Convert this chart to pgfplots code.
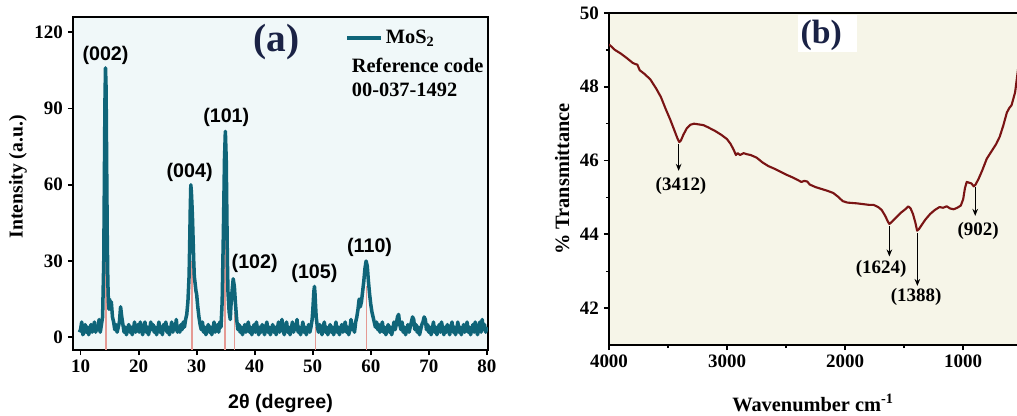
\documentclass[border=0pt]{standalone}
\usepackage{fontspec}
\setmainfont{Liberation Serif}
\setsansfont{Liberation Sans}
\usepackage{pgfplots}
\pgfplotsset{compat=1.18}
\usetikzlibrary{arrows.meta}
\definecolor{xrd}{HTML}{0F6579}
\definecolor{refpink}{HTML}{E59A94}
\definecolor{ftir}{HTML}{7A1414}
\definecolor{bga}{HTML}{F0F8F9}
\definecolor{bgb}{HTML}{F6F5E8}
\definecolor{navy}{HTML}{1A2245}

\pgfplotsset{
  panel/.style={
    scale only axis,
    tick align=outside, tick pos=left,
    axis line style={line width=2pt},
    major tick style={line width=1.3pt, black},
    minor tick style={line width=1pt, black},
    major tick length=0.13cm, minor tick length=0.08cm,
    ticklabel style={font=\rmfamily\bfseries\fontsize{13.5}{15}\selectfont},
    /pgf/number format/assume math mode=true,
  },
}

\begin{document}
\begin{tikzpicture}
\useasboundingbox (0,0) rectangle (25.425cm,10.4cm);
\clip (0,0) rectangle (25.425cm,10.4cm);

% (a) XRD
\begin{axis}[panel,
  at={(1.825cm,1.65cm)}, anchor=south west,
  width=10.375cm, height=8.325cm,
  xmin=8.7, xmax=80.2, ymin=-5, ymax=126,
  xtick={10,20,...,80}, ytick={0,30,60,90,120},
  axis background/.style={fill=bga},
  xlabel={\sffamily\bfseries 2θ (degree)},
  ylabel={\bfseries Intensity (a.u.)},
  every axis x label/.style={at={(axis description cs:0.5,-0.162)}, anchor=center, font=\fontsize{14}{16}\selectfont},
  every axis y label/.style={at={(axis description cs:-0.133,0.52)}, anchor=center, rotate=90, font=\fontsize{14}{16}\selectfont},
  legend style={at={(axis cs:55.6,117.7)}, anchor=west, draw=none, fill=none, inner sep=0pt,
    font=\fontsize{14.5}{16}\selectfont\bfseries},
  legend image code/.code={\draw[#1] (0cm,0cm) -- (0.85cm,0cm);},
  unbounded coords=jump,
]
\addplot[refpink, line width=1pt, forget plot] coordinates {
  (14.4,-5) (14.4,100) (14.4,nan)
  (29.2,-5) (29.2,30) (29.2,nan)
  (34.9,-5) (34.9,50) (34.9,nan)
  (36.5,-5) (36.5,10) (36.5,nan)
  (50.5,-5) (50.5,4) (50.5,nan)
  (59.3,-5) (59.3,20)
};
\addplot[xrd, line width=2.5pt, line join=round] coordinates {
(9.8,2) (10.0,3) (10.2,6) (10.4,1) (10.6,2) (10.8,5) (11.0,2) (11.2,4) (11.4,1) (11.6,3) (11.8,5)
(12.0,2) (12.2,4) (12.4,6) (12.6,2) (12.8,4) (13.0,3) (13.2,7) (13.4,2) (13.6,5) (13.8,8)
(14.0,30) (14.1,60) (14.2,92) (14.3,106) (14.4,98) (14.5,68) (14.6,40) (14.7,22) (14.8,14) (14.9,11)
(15.0,15) (15.1,12) (15.3,14) (15.5,8) (15.7,6) (15.9,3) (16.1,5) (16.3,2) (16.5,4) (16.7,6)
(16.9,12) (17.1,8) (17.3,5) (17.5,2) (17.7,4) (17.9,1) (18.1,3) (18.3,5) (18.5,2) (18.7,4)
(18.9,1) (19.1,3) (19.3,6) (19.5,2) (19.7,4) (19.9,5) (20.1,2) (20.3,6) (20.5,3) (20.7,1)
(20.9,4) (21.1,6) (21.3,2) (21.5,4) (21.7,1) (21.9,3) (22.1,6) (22.3,3) (22.5,5) (22.7,2)
(22.9,4) (23.1,1) (23.3,3) (23.5,6) (23.7,2) (23.9,4) (24.1,1) (24.3,5) (24.5,3) (24.7,6)
(24.9,2) (25.1,4) (25.3,1) (25.5,3) (25.7,6) (25.9,2) (26.1,5) (26.3,3) (26.5,7) (26.7,2)
(26.9,4) (27.1,2) (27.3,5) (27.5,3) (27.7,6) (27.9,4) (28.1,7) (28.3,9) (28.5,14) (28.7,24)
(28.8,36) (28.9,50) (29.0,60) (29.1,57) (29.2,52) (29.3,46) (29.4,38) (29.5,30) (29.6,24) (29.7,22)
(29.8,20) (29.9,18) (30.0,17) (30.2,12) (30.4,8) (30.6,5) (30.8,3) (31.0,6) (31.2,2) (31.4,4)
(31.6,1) (31.8,3) (32.0,5) (32.2,2) (32.4,4) (32.6,1) (32.8,3) (33.0,6) (33.2,2) (33.4,4)
(33.6,5) (33.8,2) (34.0,6) (34.2,4) (34.4,14) (34.6,40) (34.8,70) (34.95,81) (35.1,70) (35.2,50)
(35.3,30) (35.4,18) (35.6,10) (35.8,7) (35.9,12) (36.1,18) (36.3,23) (36.5,20) (36.7,13) (36.9,7)
(37.1,3) (37.3,5) (37.5,2) (37.7,4) (37.9,1) (38.1,3) (38.3,5) (38.5,2) (38.7,4) (38.9,6)
(39.1,2) (39.3,4) (39.5,1) (39.7,3) (39.9,5) (40.1,2) (40.3,6) (40.5,3) (40.7,1) (40.9,4)
(41.1,2) (41.3,5) (41.5,3) (41.7,1) (41.9,4) (42.1,6) (42.3,2) (42.5,4) (42.7,1) (42.9,3)
(43.1,5) (43.3,2) (43.5,4) (43.7,1) (43.9,3) (44.1,6) (44.3,2) (44.5,4) (44.7,7) (44.9,3)
(45.1,1) (45.3,4) (45.5,6) (45.7,2) (45.9,4) (46.1,1) (46.3,3) (46.5,6) (46.7,2) (46.9,5)
(47.1,3) (47.3,7) (47.5,2) (47.7,4) (47.9,1) (48.1,3) (48.3,6) (48.5,2) (48.7,4) (48.9,1)
(49.1,3) (49.3,5) (49.5,2) (49.7,4) (49.9,7) (50.0,10) (50.1,14) (50.2,18) (50.3,20) (50.4,17)
(50.5,12) (50.6,8) (50.8,4) (51.0,2) (51.2,5) (51.4,3) (51.6,1) (51.8,4) (52.0,6) (52.2,2)
(52.4,4) (52.6,1) (52.8,3) (53.0,5) (53.2,2) (53.4,4) (53.6,1) (53.8,3) (54.0,6) (54.2,2)
(54.4,4) (54.6,1) (54.8,3) (55.0,5) (55.2,2) (55.4,4) (55.6,6) (55.8,2) (56.0,4) (56.2,1)
(56.4,3) (56.6,7) (56.8,3) (57.0,5) (57.2,2) (57.4,6) (57.6,8) (57.8,11) (58.0,15) (58.2,12)
(58.4,14) (58.6,18) (58.8,22) (59.0,27) (59.2,30) (59.4,28) (59.6,22) (59.8,17) (60.0,13) (60.2,10)
(60.4,8) (60.6,6) (60.8,4) (61.0,6) (61.2,3) (61.4,5) (61.6,2) (61.8,4) (62.0,6) (62.2,2)
(62.4,4) (62.6,1) (62.8,3) (63.0,5) (63.2,2) (63.4,4) (63.6,1) (63.8,3) (64.0,6) (64.2,3)
(64.4,5) (64.6,8) (64.8,9) (65.0,5) (65.2,3) (65.4,6) (65.6,2) (65.8,4) (66.0,1) (66.2,3)
(66.4,5) (66.6,2) (66.8,4) (67.0,6) (67.2,8) (67.4,7) (67.6,3) (67.8,5) (68.0,2) (68.2,4)
(68.4,1) (68.6,3) (68.8,5) (69.0,6) (69.2,8) (69.4,7) (69.6,3) (69.8,5) (70.0,2) (70.2,4)
(70.4,1) (70.6,3) (70.8,6) (71.0,2) (71.2,4) (71.4,1) (71.6,3) (71.8,5) (72.0,2) (72.2,6)
(72.4,3) (72.6,1) (72.8,4) (73.0,2) (73.2,5) (73.4,3) (73.6,1) (73.8,4) (74.0,6) (74.2,2)
(74.4,4) (74.6,1) (74.8,3) (75.0,6) (75.2,2) (75.4,4) (75.6,1) (75.8,3) (76.0,5) (76.2,2)
(76.4,4) (76.6,6) (76.8,2) (77.0,4) (77.2,1) (77.4,3) (77.6,5) (77.8,2) (78.0,6) (78.2,3)
(78.4,1) (78.6,4) (78.8,6) (79.0,2) (79.2,7) (79.4,3) (79.6,5) (79.8,2) (80.0,4)
};
\addlegendentry{MoS\textsubscript{2}}
\node[font=\fontsize{14.5}{16}\selectfont\bfseries, anchor=west] at (axis cs:55.9,107) {Reference code};
\node[font=\fontsize{14.5}{16}\selectfont\bfseries, anchor=west] at (axis cs:55.9,97.2) {00-037-1492};
\node[font=\fontsize{28}{30}\selectfont\bfseries, text=navy] at (axis cs:43.8,116) {(a)};
\begin{scope}[every node/.style={font=\sffamily\bfseries\fontsize{14}{16}\selectfont}]
\node at (axis cs:14.3,111) {(002)};
\node at (axis cs:28.8,65) {(004)};
\node at (axis cs:35.1,86.6) {(101)};
\node at (axis cs:40.0,29) {(102)};
\node at (axis cs:50.3,25.2) {(105)};
\node at (axis cs:59.8,35.4) {(110)};
\end{scope}
\end{axis}

% (b) FTIR
\begin{axis}[panel,
  at={(15.225cm,1.775cm)}, anchor=south west,
  width=10.625cm, height=8.3cm,
  xmin=400, xmax=4000, x dir=reverse, ymin=41, ymax=50,
  xtick={1000,2000,3000,4000}, minor xtick={1500,2500,3500},
  ytick={42,44,...,50}, minor ytick={43,45,47,49},
  axis background/.style={fill=bgb},
  xlabel={\bfseries Wavenumber cm\textsuperscript{-1}},
  ylabel={\bfseries \% Transmittance},
  every axis x label/.style={at={(axis description cs:0.48,-0.175)}, anchor=center, font=\fontsize{14.5}{16}\selectfont},
  every axis y label/.style={at={(axis description cs:-0.11,0.5)}, anchor=center, rotate=90, font=\fontsize{14.5}{16}\selectfont},
  xticklabel style={/pgf/number format/1000 sep={}},
]
\fill[white] (axis cs:2400,49.95) rectangle (axis cs:1900,48.95);
\node[font=\fontsize{24}{26}\selectfont\bfseries, text=navy] at (axis cs:2203,49.4) {(b)};
\addplot[ftir, line width=1.5pt, line join=round] coordinates {
(4000,49.15) (3950,49.0) (3900,48.9) (3850,48.78) (3800,48.65) (3780,48.62) (3760,48.6) (3740,48.45)
(3700,48.35) (3650,48.2) (3600,47.95) (3560,47.72) (3520,47.4) (3480,47.1) (3450,46.85) (3420,46.6)
(3405,46.5) (3390,46.55) (3370,46.7) (3340,46.88) (3310,46.97) (3280,47.0) (3240,46.98) (3200,46.96)
(3160,46.9) (3100,46.8) (3050,46.7) (3000,46.58) (2970,46.45) (2945,46.3) (2925,46.15) (2910,46.2)
(2890,46.15) (2860,46.2) (2830,46.17) (2800,46.15) (2750,46.08) (2700,45.95) (2650,45.85) (2600,45.78)
(2550,45.7) (2500,45.62) (2450,45.55) (2400,45.47) (2370,45.42) (2345,45.45) (2320,45.43) (2300,45.35)
(2250,45.28) (2200,45.23) (2150,45.18) (2100,45.12) (2060,45.02) (2020,44.9) (1980,44.86) (1940,44.85)
(1900,44.84) (1850,44.82) (1800,44.8) (1760,44.8) (1720,44.74) (1690,44.66) (1660,44.5) (1640,44.36)
(1625,44.28) (1600,44.35) (1570,44.45) (1530,44.58) (1490,44.68) (1465,44.76) (1445,44.7) (1425,44.55)
(1405,44.32) (1390,44.1) (1375,44.14) (1350,44.26) (1320,44.4) (1280,44.55) (1240,44.66) (1200,44.74)
(1170,44.72) (1140,44.76) (1110,44.7) (1080,44.68) (1050,44.72) (1020,44.78) (1000,44.95) (985,45.25)
(970,45.42) (950,45.4) (930,45.38) (910,45.3) (895,45.35) (870,45.5) (840,45.72) (800,46.05)
(760,46.25) (720,46.45) (690,46.65) (660,46.95) (630,47.3) (610,47.42) (590,47.5) (560,47.85)
(534,48.5) (520,48.8) (500,49.2)
};
\begin{scope}[-{Stealth[length=5pt,width=4pt]}, line width=0.8pt]
\draw (axis cs:3410,46.45) -- (axis cs:3410,45.72);
\draw (axis cs:1625,44.22) -- (axis cs:1625,43.4);
\draw (axis cs:1388,44.04) -- (axis cs:1388,42.6);
\draw (axis cs:898,45.28) -- (axis cs:898,44.5);
\end{scope}
\begin{scope}[every node/.style={font=\fontsize{13.5}{15}\selectfont\bfseries}]
\node at (axis cs:3390,45.32) {(3412)};
\node at (axis cs:1695,43.05) {(1624)};
\node at (axis cs:1398,42.3) {(1388)};
\node at (axis cs:873,44.08) {(902)};
\end{scope}
\end{axis}
\end{tikzpicture}
\end{document}
